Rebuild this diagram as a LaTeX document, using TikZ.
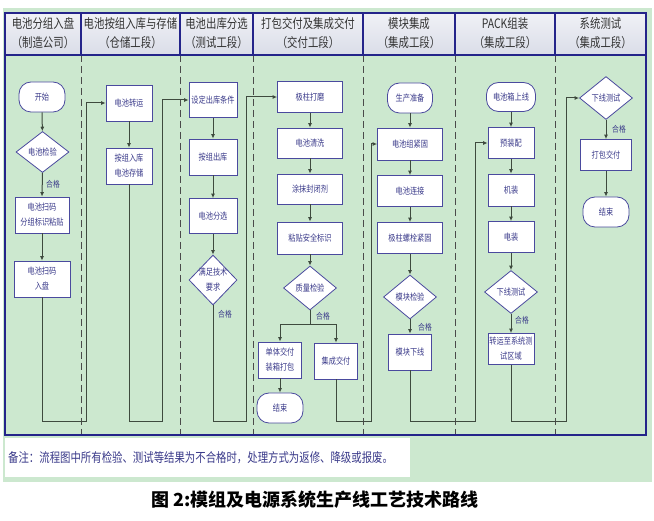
\documentclass[tikz,border=0pt]{standalone}
\usepackage{fontspec}
\usetikzlibrary{shapes.geometric,arrows.meta}
\newfontfamily\cjk[FakeStretch=0.8]{Noto Sans CJK SC}
\newfontfamily\cjkcap{Noto Sans CJK SC}
\definecolor{bggreen}{HTML}{CCE8CF}
\definecolor{navy}{HTML}{24248A}
\definecolor{nodeline}{HTML}{4A4A9E}
\definecolor{nodetext}{HTML}{3A3A8A}
\definecolor{connc}{HTML}{3E4A3E}
\definecolor{dashc}{HTML}{4A4A4A}
\definecolor{hdrtext}{HTML}{333333}
\definecolor{hdrtop}{HTML}{F0F1F6}
\definecolor{hdrbot}{HTML}{DADDE8}
\tikzset{
  nbox/.style={draw=nodeline, fill=white, line width=0.8pt, text=nodetext,
    font=\cjk\fontsize{9}{15}\selectfont, align=center, inner sep=1pt},
  term/.style={nbox, rounded corners=12pt},
  dia/.style={diamond, draw=nodeline, fill=white, line width=0.8pt, inner sep=0pt},
  ntext/.style={text=nodetext, font=\cjk\fontsize{9}{15}\selectfont, align=center},
  conn/.style={draw=connc, line width=1pt, -{Latex[length=4.5pt,width=4pt]}},
  plain/.style={draw=connc, line width=1pt},
  ok/.style={text=nodetext, font=\cjk\fontsize{8.5}{10}\selectfont, anchor=west, inner sep=0pt},
  hdr/.style={text=hdrtext, font=\cjk\fontsize{13}{19}\selectfont, align=center},
  sep/.style={draw=dashc, line width=0.9pt, dash pattern=on 7pt off 4pt}
}
\begin{document}
\begin{tikzpicture}[x=1pt,y=-1pt]
\useasboundingbox (0,0) rectangle (654,521);
\fill[white] (0,0) rectangle (654,521);
% background
\fill[bggreen] (3,8) rectangle (652,482);
% header
\shade[top color=hdrtop, bottom color=hdrbot] (5,13) rectangle (646,55);
% dashed separators
\foreach \xx in {81,180,253,363,455,555} {
  \draw[sep] (\xx,55) -- (\xx,435);
  \draw[navy, line width=1.3pt] (\xx,13) -- (\xx,55);
}
\draw[navy, line width=1.5pt] (5,13) rectangle (646,435);
\draw[navy, line width=1.5pt] (5,55) -- (646,55);
% header texts
\node[hdr] (h1) at (43,33) {电池分组入盘\\（制造公司）};
\node[hdr] (h2) at (130.5,33) {电池按组入库与存储\\（仓储工段）};
\node[hdr] (h3) at (216.5,33) {电池出库分选\\（测试工段）};
\node[hdr] (h4) at (308,33) {打包交付及集成交付\\（交付工段）};
\node[hdr] (h5) at (409,33) {模块集成\\（集成工段）};
\node[hdr] (h6) at (505,33) {PACK组装\\（集成工段）};
\node[hdr] (h7) at (600.5,33) {系统测试\\（集成工段）};

% column 1
\node[term, minimum width=46pt, minimum height=30pt] (c1a) at (42,97) {开始};
\node[dia, minimum width=53pt, minimum height=41pt] (c1b) at (42.5,152) {};
\node[ntext] at (c1b) {电池检验};
\node[nbox, minimum width=54pt, minimum height=36pt] (c1c) at (42,215) {电池扫码\\分组标识粘贴};
\node[nbox, minimum width=56pt, minimum height=36pt] (c1d) at (42,279) {电池扫码\\入盘};
\draw[conn] (c1a) -- (c1b);
\draw[conn] (c1b.south) -- (c1c.north);
\node[ok] (k1) at (46,184) {合格};
\draw[conn] (c1c) -- (c1d);

% column 2
\node[nbox, minimum width=46pt, minimum height=36pt] (c2a) at (129,103) {电池转运};
\node[nbox, minimum width=46pt, minimum height=36pt] (c2b) at (129,166) {按组入库\\电池存储};
\draw[conn] (c2a) -- (c2b);

% column 3
\node[nbox, minimum width=48pt, minimum height=35pt] (c3a) at (213,100) {设定出库条件};
\node[nbox, minimum width=48pt, minimum height=36pt] (c3b) at (213,157) {按组出库};
\node[nbox, minimum width=48pt, minimum height=35pt] (c3c) at (213,216) {电池分选};
\node[dia, minimum width=48pt, minimum height=50pt] (c3d) at (213,280) {};
\node[ntext] at (213,280) {满足技术\\要求};
\draw[conn] (c3a) -- (c3b);
\draw[conn] (c3b) -- (c3c);
\draw[conn] (c3c.south) -- (c3d.north);
\node[ok] (k3) at (218,314) {合格};

% column 4
\node[nbox, minimum width=65pt, minimum height=31pt] (c4a) at (310,97) {极柱打磨};
\node[nbox, minimum width=65pt, minimum height=30pt] (c4b) at (310,143) {电池清洗};
\node[nbox, minimum width=65pt, minimum height=30pt] (c4c) at (310,189) {涂抹封闭剂};
\node[nbox, minimum width=65pt, minimum height=32pt] (c4d) at (310,238) {粘贴安全标识};
\node[dia, minimum width=53pt, minimum height=44pt] (c4e) at (310,288) {};
\node[ntext] at (c4e) {质量检验};
\node[nbox, minimum width=43pt, minimum height=36pt] (c4f) at (280,360) {单体交付\\装箱打包};
\node[nbox, minimum width=43pt, minimum height=36pt] (c4g) at (336,361) {集成交付};
\node[term, minimum width=46pt, minimum height=30pt] (c4h) at (280,408) {结束};
\draw[conn] (c4a) -- (c4b);
\draw[conn] (c4b) -- (c4c);
\draw[conn] (c4c) -- (c4d);
\draw[conn] (c4d.south) -- (c4e.north);
\coordinate (br) at (310,325);
\draw[plain] (c4e.south) -- (br);
\draw[conn] (br) -| (c4f.north);
\draw[conn] (br) -| (c4g.north);
\draw[conn] (c4f) -- (c4h);
\node[ok] (k4) at (316,316) {合格};

% column 5
\node[term, minimum width=45pt, minimum height=30pt] (c5a) at (410,98) {生产准备};
\node[nbox, minimum width=65pt, minimum height=32pt] (c5b) at (410,144) {电池组紧固};
\node[nbox, minimum width=65pt, minimum height=31pt] (c5c) at (410,191) {电池连接};
\node[nbox, minimum width=65pt, minimum height=31pt] (c5d) at (410,238) {极柱螺栓紧固};
\node[dia, minimum width=53pt, minimum height=44pt] (c5e) at (410,297) {};
\node[ntext] at (c5e) {模块检验};
\node[nbox, minimum width=43pt, minimum height=36pt] (c5f) at (410,352) {模块下线};
\draw[conn] (c5a) -- (c5b);
\draw[conn] (c5b) -- (c5c);
\draw[conn] (c5c) -- (c5d);
\draw[conn] (c5d.south) -- (c5e.north);
\draw[conn] (c5e.south) -- (c5f.north);
\node[ok] (k5) at (418,327) {合格};

% column 6
\node[term, minimum width=49pt, minimum height=29pt] (c6a) at (511,97) {电池箱上线};
\node[nbox, minimum width=46pt, minimum height=31pt] (c6b) at (511,143) {预装配};
\node[nbox, minimum width=46pt, minimum height=32pt] (c6c) at (511,190) {机装};
\node[nbox, minimum width=46pt, minimum height=31pt] (c6d) at (511,237) {电装};
\node[dia, minimum width=53pt, minimum height=43pt] (c6e) at (511,292) {};
\node[ntext] at (c6e) {下线测试};
\node[nbox, minimum width=46pt, minimum height=31pt] (c6f) at (511,349) {转运至系统测\\试区域};
\draw[conn] (c6a) -- (c6b);
\draw[conn] (c6b) -- (c6c);
\draw[conn] (c6c) -- (c6d);
\draw[conn] (c6d.south) -- (c6e.north);
\draw[conn] (c6e.south) -- (c6f.north);
\node[ok] (k6) at (515,320) {合格};

% column 7
\node[dia, minimum width=53pt, minimum height=43pt] (c7a) at (606,98) {};
\node[ntext] at (c7a) {下线测试};
\node[nbox, minimum width=51pt, minimum height=31pt] (c7b) at (606,155) {打包交付};
\node[term, minimum width=46pt, minimum height=30pt] (c7c) at (606,212) {结束};
\draw[conn] (c7a.south) -- (c7b.north);
\draw[conn] (c7b) -- (c7c);
\node[ok] (k7) at (612,129) {合格};

% loops between columns
\coordinate (l1) at (86,422);
\coordinate (l2) at (162,422);
\coordinate (l3) at (246,422);
\coordinate (l4) at (371,422);
\coordinate (l5) at (475,422);
\coordinate (l6) at (566,422);
\draw[conn] (c1d.south) |- (l1) |- (c2a.west);
\draw[conn] (c2b.south) |- (l2) |- (c3a.west);
\draw[conn] (c3d.south) |- (l3) |- (c4a.west);
\draw[conn] (c4g.south) |- (l4) |- (c5b.west);
\draw[conn] (c5f.south) |- (l5) |- (c6b.west);
\draw[conn] (c6f.south) |- (l6) |- (c7a.west);

% note
\fill[white] (5,438) rectangle (410,477);
\node[anchor=west, text=nodetext, font=\cjk\fontsize{13}{15}\selectfont, inner sep=0pt] (note) at (8,458)
  {备注：流程图中所有检验、测试等结果为不合格时，处理方式为返修、降级或报废。};

% caption
\node[font=\cjkcap\bfseries\fontsize{18}{20}\selectfont, text=black] (cap) at (315,500)
  {图 2:模组及电源系统生产线工艺技术路线};
\end{tikzpicture}
\end{document}
